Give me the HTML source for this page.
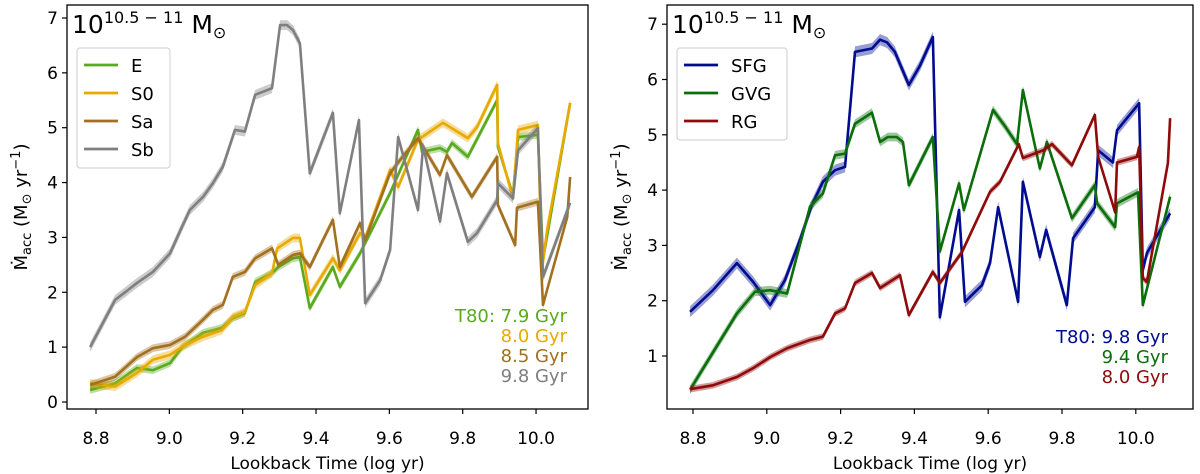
<!DOCTYPE html>
<html><head><meta charset="utf-8"><style>
body{margin:0;background:#fff;}
svg{display:block;font-family:"DejaVu Sans","Liberation Sans",sans-serif;}
</style></head><body>
<svg id="chart" width="1200" height="474" viewBox="0 0 1200 474" xmlns="http://www.w3.org/2000/svg"></svg>
<script>
// Left panel data
const xTicks = [8.8, 9.0, 9.2, 9.4, 9.6, 9.8, 10.0];
const xTickLabels = ["8.8","9.0","9.2","9.4","9.6","9.8","10.0"];
const yTicksL = [0,1,2,3,4,5,6,7];
const yTicksR = [1,2,3,4,5,6,7];
const sbX = [8.784,8.852,8.912,8.955,9.002,9.035,9.056,9.092,9.119,9.146,9.179,9.206,9.234,9.28,9.302,9.321,9.337,9.356,9.383,9.446,9.465,9.517,9.534,9.575,9.602,9.624,9.678,9.692,9.738,9.757,9.814,9.839,9.894,9.896,9.937,9.951,10.005,10.019,10.093];
const sbY = [1.0,1.86,2.17,2.37,2.71,3.2,3.5,3.74,3.99,4.29,4.96,4.93,5.6,5.72,6.87,6.87,6.78,6.54,4.17,5.27,3.44,5.14,1.8,2.22,2.77,4.83,3.5,4.67,3.29,4.17,2.92,3.08,3.68,3.99,3.71,4.59,4.99,2.28,3.63];
const saX = [8.784,8.852,8.912,8.955,9.002,9.043,9.092,9.119,9.146,9.173,9.206,9.234,9.28,9.297,9.337,9.356,9.383,9.446,9.465,9.52,9.534,9.602,9.629,9.678,9.738,9.757,9.825,9.894,9.896,9.943,9.948,10.005,10.019,10.03,10.085,10.093];
const saY = [0.31,0.46,0.82,0.98,1.04,1.19,1.5,1.68,1.77,2.28,2.37,2.62,2.8,2.5,2.68,2.71,2.46,3.32,2.46,3.26,2.95,4.17,4.41,4.81,4.14,4.5,3.74,4.47,3.59,2.86,3.54,3.65,1.77,2.04,3.37,4.1];
const s0X = [8.784,8.852,8.912,8.955,9.002,9.043,9.092,9.143,9.173,9.206,9.234,9.28,9.294,9.337,9.356,9.383,9.446,9.465,9.52,9.534,9.602,9.624,9.678,9.746,9.814,9.839,9.894,9.896,9.937,9.951,10.005,10.016,10.03,10.093];
const s0Y = [0.34,0.28,0.53,0.77,0.86,1.04,1.19,1.31,1.55,1.64,2.13,2.35,2.8,2.99,2.99,1.95,2.62,2.4,3.08,2.99,4.23,3.92,4.78,5.09,4.81,5.01,5.78,4.72,3.71,4.96,5.05,2.4,3.13,5.45];
const eX = [8.784,8.852,8.912,8.955,9.002,9.035,9.092,9.143,9.173,9.206,9.234,9.28,9.297,9.337,9.356,9.383,9.446,9.465,9.52,9.602,9.678,9.689,9.738,9.757,9.771,9.814,9.894,9.896,9.937,9.951,10.005,10.019,10.093];
const eY = [0.22,0.34,0.62,0.58,0.71,1.0,1.26,1.35,1.53,1.62,2.19,2.35,2.46,2.62,2.64,1.71,2.46,2.1,2.71,3.81,4.96,4.56,4.63,4.56,4.72,4.47,5.5,4.65,3.77,4.83,4.87,2.59,5.45];
// Right panel data
const sfgX = [8.792,8.854,8.919,8.963,9.009,9.049,9.09,9.122,9.152,9.185,9.212,9.239,9.285,9.307,9.326,9.347,9.385,9.415,9.45,9.469,9.521,9.537,9.583,9.605,9.627,9.681,9.694,9.74,9.757,9.813,9.83,9.889,9.898,9.938,9.949,10.009,10.019,10.03,10.093];
const sfgY = [1.8,2.19,2.68,2.34,1.92,2.37,3.1,3.73,4.15,4.36,4.42,6.5,6.56,6.72,6.67,6.5,5.9,6.25,6.77,1.7,3.64,1.98,2.28,2.68,3.69,1.98,4.15,2.79,3.28,1.92,3.13,3.69,4.72,4.5,5.08,5.57,2.55,2.86,3.58];
const gvgX = [8.792,8.919,8.968,9.009,9.055,9.117,9.152,9.185,9.212,9.239,9.285,9.307,9.328,9.352,9.369,9.385,9.45,9.469,9.521,9.534,9.613,9.646,9.678,9.694,9.74,9.759,9.827,9.889,9.895,9.944,9.949,10.006,10.019,10.093];
const gvgY = [0.39,1.77,2.16,2.19,2.13,3.7,3.94,4.63,4.66,5.2,5.4,4.87,4.96,4.96,4.87,4.09,4.96,2.89,4.12,3.64,5.45,5.15,4.83,5.81,4.39,4.87,3.49,4.09,3.76,3.33,3.76,3.96,1.92,3.88];
const rgX = [8.792,8.854,8.919,8.963,9.009,9.055,9.117,9.152,9.185,9.212,9.239,9.285,9.307,9.361,9.385,9.45,9.469,9.529,9.605,9.632,9.683,9.694,9.749,9.773,9.827,9.889,9.898,9.944,9.949,10.003,10.009,10.019,10.03,10.087,10.093];
const rgY = [0.4,0.47,0.62,0.78,0.98,1.14,1.29,1.35,1.77,1.86,2.32,2.5,2.23,2.46,1.74,2.52,2.32,2.88,3.97,4.15,4.83,4.58,4.72,4.83,4.45,5.36,4.6,3.6,4.5,4.6,4.78,2.41,2.34,4.49,5.3];

const NS="http://www.w3.org/2000/svg";
const svg=document.getElementById('chart');
function mk(tag,attrs,parent){const e=document.createElementNS(NS,tag);for(const k in attrs)e.setAttribute(k,attrs[k]);(parent||svg).appendChild(e);return e;}

function panel(p){
  const g=mk('g',{});
  
  
  const sx=v=>p.x0+(v-8.8)*p.kx;
  const sy=v=>p.y0-v*p.ky;
  p.series.forEach(s=>{
    const up=s.x.map((v,i)=>sx(v)+','+sy(s.y[i]+s.err)).join(' ');
    const dn=s.x.map((v,i)=>sx(v)+','+sy(s.y[i]-s.err)).reverse().join(' ');
    const band=mk('polygon',{points:up+' '+dn,fill:s.c,'fill-opacity':0.4,stroke:'none'},g);
    
    
    const ln=mk('polyline',{points:s.x.map((v,i)=>sx(v)+','+sy(s.y[i])).join(' '),fill:'none',stroke:s.c,'stroke-width':2.6,'stroke-linejoin':'round'},g);
    
    
  });
  const fr=mk('rect',{x:p.fx0,y:5,width:p.fx1-p.fx0,height:404,fill:'none',stroke:'#000','stroke-width':1.3},g);
  
  
  xTicks.forEach((v,i)=>{
    mk('line',{x1:sx(v),x2:sx(v),y1:409,y2:414,stroke:'#000','stroke-width':1.2},g);
    const t=mk('text',{x:sx(v),y:444,'font-size':17,'text-anchor':'middle'},g);
    t.textContent=xTickLabels[i];
    
    
  });
  p.yt.forEach(v=>{
    mk('line',{x1:p.fx0-5,x2:p.fx0,y1:sy(v),y2:sy(v),stroke:'#000','stroke-width':1.2},g);
    const t=mk('text',{x:p.fx0-9,y:sy(v)+6,'font-size':17,'text-anchor':'end'},g);
    t.textContent=String(v);
    
    
  });
  const xl=mk('text',{x:(p.fx0+p.fx1)/2,y:469,'font-size':17,'text-anchor':'middle'},g);
  xl.textContent='Lookback Time (log yr)';
  
  
  const yl=mk('text',{x:0,y:0,'font-size':18,'text-anchor':'middle',transform:`translate(${p.fx0-40},207) rotate(-90)`},g);
  yl.innerHTML='<tspan>Ṁ</tspan><tspan font-size="13" dy="4">acc</tspan><tspan dy="-4"> (M</tspan><tspan font-size="13" dy="4">⊙</tspan><tspan dy="-4">  yr</tspan><tspan font-size="13" dy="-7">−1</tspan><tspan dy="7">)</tspan>';
  
  
  const ti=mk('text',{x:p.fx0+5,y:33,'font-size':25},g);
  ti.innerHTML='10<tspan font-size="16" dy="-10">10.5 − 11</tspan><tspan dy="10"> M</tspan><tspan font-size="16" dy="5">⊙</tspan>';
  
  
  const lg=mk('g',{},g);
  
  
  mk('rect',{x:p.fx0+10,y:48,width:p.legW,height:p.series.length*28+8,rx:3,fill:'#fff',stroke:'#ccc','stroke-width':1},lg);
  p.series.forEach((s,i)=>{
    const y=65+i*28;
    const en=mk('g',{},lg);
    
    
    mk('line',{x1:p.fx0+17,x2:p.fx0+51,y1:y,y2:y,stroke:s.c,'stroke-width':2.8},en);
    const t=mk('text',{x:p.fx0+64,y:y+7,'font-size':18},en);
    t.textContent=s.label;
  });
  p.series.forEach((s,i)=>{
    const t=mk('text',{x:p.annX,y:p.annY+i*20,'font-size':18,'text-anchor':'end',fill:s.c},g);
    t.textContent=(i===0?'T80: ':'')+s.t80+' Gyr';
    
    
  });
}

panel({name:'left-panel',x0:96,kx:366.7,y0:402,ky:54.86,fx0:67,fx1:588,yt:yTicksL,legW:93,annX:567,annY:322,
  series:[
   {key:'e',label:'E',c:'#5aaa1e',x:eX,y:eY,err:0.07,t80:'7.9'},
   {key:'s0',label:'S0',c:'#e8a900',x:s0X,y:s0Y,err:0.08,t80:'8.0'},
   {key:'sa',label:'Sa',c:'#a2701e',x:saX,y:saY,err:0.07,t80:'8.5'},
   {key:'sb',label:'Sb',c:'#7f7f7f',x:sbX,y:sbY,err:0.09,t80:'9.8'}]});
panel({name:'right-panel',x0:693,kx:369,y0:411.3,ky:55.3,fx0:667,fx1:1193,yt:yTicksR,legW:110,annX:1168,annY:343,
  series:[
   {key:'sfg',label:'SFG',c:'#000c8f',x:sfgX,y:sfgY,err:0.1,t80:'9.8'},
   {key:'gvg',label:'GVG',c:'#0a6e0a',x:gvgX,y:gvgY,err:0.08,t80:'9.4'},
   {key:'rg',label:'RG',c:'#8f0a0a',x:rgX,y:rgY,err:0.06,t80:'8.0'}]});
</script>
</body></html>
